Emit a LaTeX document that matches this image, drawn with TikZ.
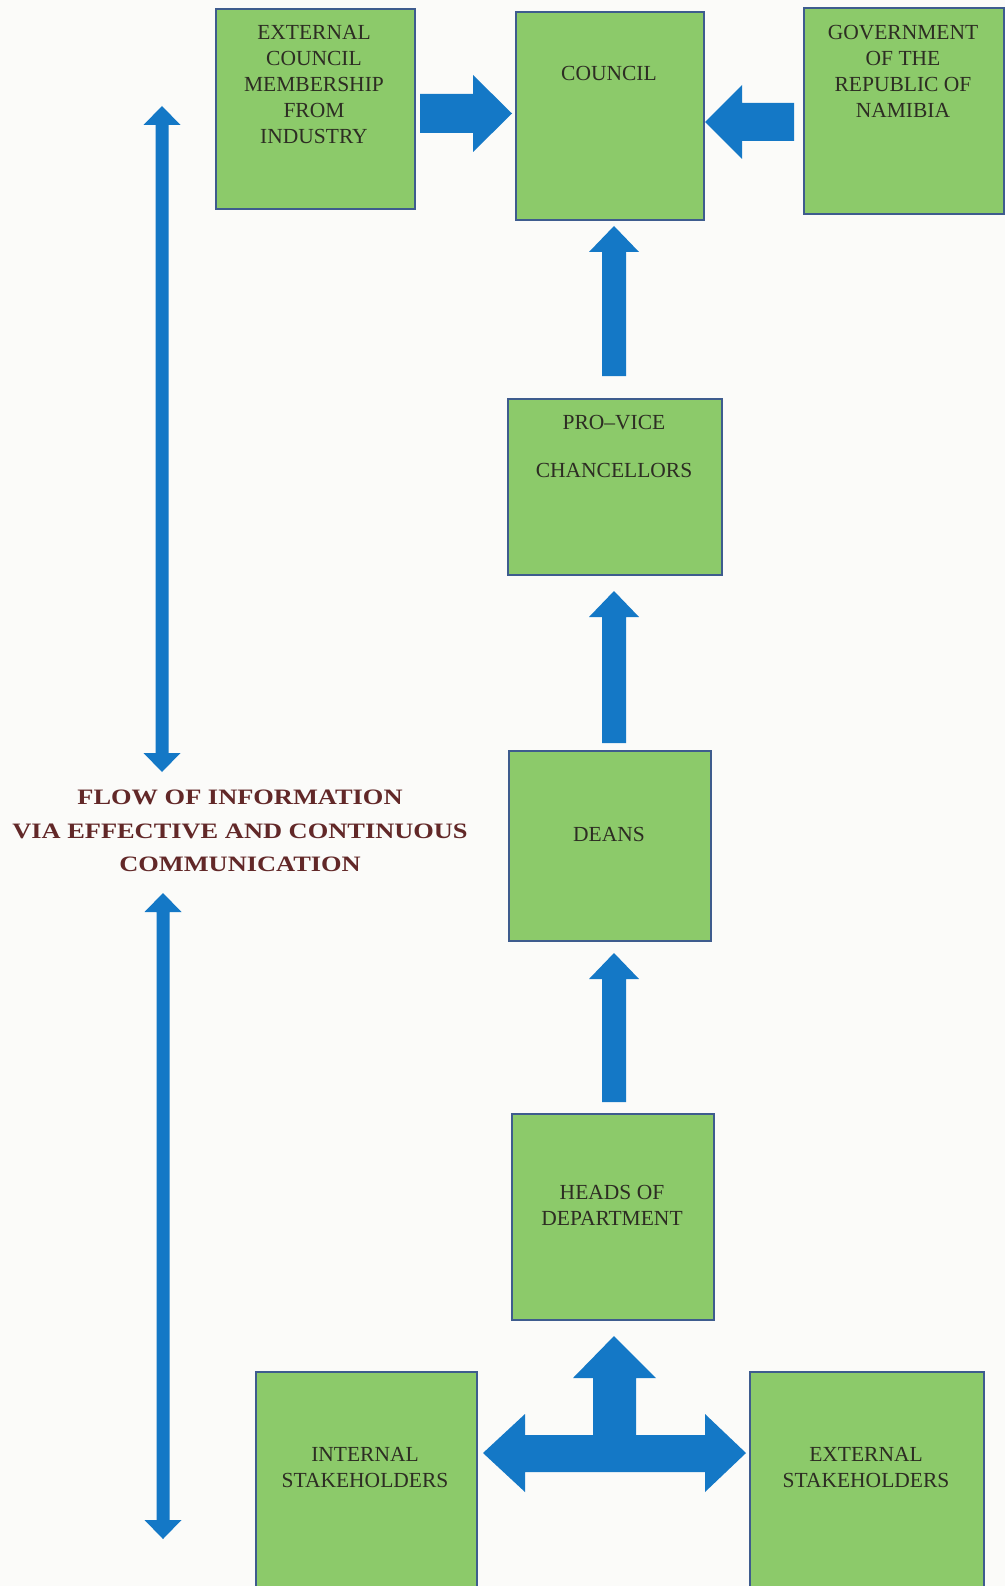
\documentclass[tikz,border=0pt]{standalone}
\usepackage{fontspec}
\setmainfont{Liberation Serif}
\newfontfamily\labelfont[FakeStretch=1.2]{Liberation Serif Bold}
\definecolor{boxgreen}{RGB}{140,202,106}
\definecolor{boxedge}{RGB}{62,92,142}
\definecolor{arrowblue}{RGB}{20,120,198}
\definecolor{txtcol}{RGB}{45,45,35}
\definecolor{labelcol}{RGB}{98,40,40}
\definecolor{bgcol}{RGB}{251,251,249}
\tikzset{
  boxnode/.style={draw=boxedge, line width=2.2pt, fill=boxgreen, inner sep=0pt, anchor=north west},
  boxtext/.style={text=txtcol, align=center, inner sep=0pt, font=\fontsize{21.5}{26}\selectfont},
  blockarrow/.style={fill=arrowblue, draw=none},
}
% vertical up arrow: x, tip y, bottom y
\newcommand\UpBlock[3]{%
  \fill[arrowblue] (#1,#2) -- (#1+25,#2+26) -- (#1+12,#2+26) -- (#1+12,#3) -- (#1-12,#3) -- (#1-12,#2+26) -- (#1-25,#2+26) -- cycle;}
% vertical double arrow: x, top tip, bottom tip
\newcommand\VDBlock[3]{%
  \fill[arrowblue] (#1,#2) -- (#1+18.5,#2+19) -- (#1+6.5,#2+19) -- (#1+6.5,#3-19) -- (#1+18.5,#3-19) -- (#1,#3) -- (#1-18.5,#3-19) -- (#1-6.5,#3-19) -- (#1-6.5,#2+19) -- (#1-18.5,#2+19) -- cycle;}
\begin{document}
\begin{tikzpicture}[x=1pt,y=-1pt]
\fill[bgcol] (0,0) rectangle (1005,1586);
\useasboundingbox (0,0) rectangle (1005,1586);

% boxes
\node[boxnode, minimum width=199pt, minimum height=200pt] (ext) at (215,8) {};
\node[boxnode, minimum width=188pt, minimum height=208pt] (council) at (515,11) {};
\node[boxnode, minimum width=200pt, minimum height=206pt] (gov) at (803,7) {};
\node[boxnode, minimum width=214pt, minimum height=176pt] (pro) at (507,398) {};
\node[boxnode, minimum width=202pt, minimum height=190pt] (deans) at (508,750) {};
\node[boxnode, minimum width=202pt, minimum height=206pt] (hod) at (511,1113) {};
\node[boxnode, minimum width=221pt, minimum height=216pt] (int) at (255,1371) {};
\node[boxnode, minimum width=234pt, minimum height=216pt] (extsh) at (749,1371) {};

% box texts
\node[boxtext] (extT) at (314,85) {EXTERNAL\\COUNCIL\\MEMBERSHIP\\FROM\\INDUSTRY};
\node[boxtext] (councilT) at (609,73) {COUNCIL};
\node[boxtext] (govT) at (903,71) {GOVERNMENT\\OF THE\\REPUBLIC OF\\NAMIBIA};
\node[boxtext] (proT) at (614,446) {PRO–VICE\\[22pt]CHANCELLORS};
\node[boxtext] (deansT) at (609,834) {DEANS};
\node[boxtext] (hodT) at (612,1205) {HEADS OF\\DEPARTMENT};
\node[boxtext] (intT) at (365,1467) {INTERNAL\\STAKEHOLDERS};
\node[boxtext] (extshT) at (866,1467) {EXTERNAL\\STAKEHOLDERS};

% horizontal block arrows at top
\fill[arrowblue] (420,94) -- (473,94) -- (473,75) -- (512,113.5) -- (473,152) -- (473,133) -- (420,133) -- cycle;
\fill[arrowblue] (794,103) -- (742,103) -- (742,85) -- (705,122) -- (742,159) -- (742,141) -- (794,141) -- cycle;

% vertical up arrows
\UpBlock{614}{226}{376}
\UpBlock{614}{591}{743}
\UpBlock{614}{953}{1102}

% T arrow at bottom
\fill[arrowblue] (614,1336) -- (656,1378) -- (636,1378) -- (636,1435) -- (705,1435) -- (705,1414) -- (746,1453) -- (705,1492) -- (705,1472) -- (525,1472) -- (525,1492) -- (483,1453) -- (525,1414) -- (525,1435) -- (593,1435) -- (593,1378) -- (573,1378) -- cycle;

% left double arrows
\VDBlock{162}{106}{772}
\VDBlock{163}{893}{1539}

% label
\node[text=labelcol, align=center, inner sep=0pt, font=\labelfont\fontsize{22}{33.5}\selectfont] (flow) at (240,831)
  {FLOW OF INFORMATION\\VIA EFFECTIVE AND CONTINUOUS\\COMMUNICATION};
\end{tikzpicture}
\end{document}
